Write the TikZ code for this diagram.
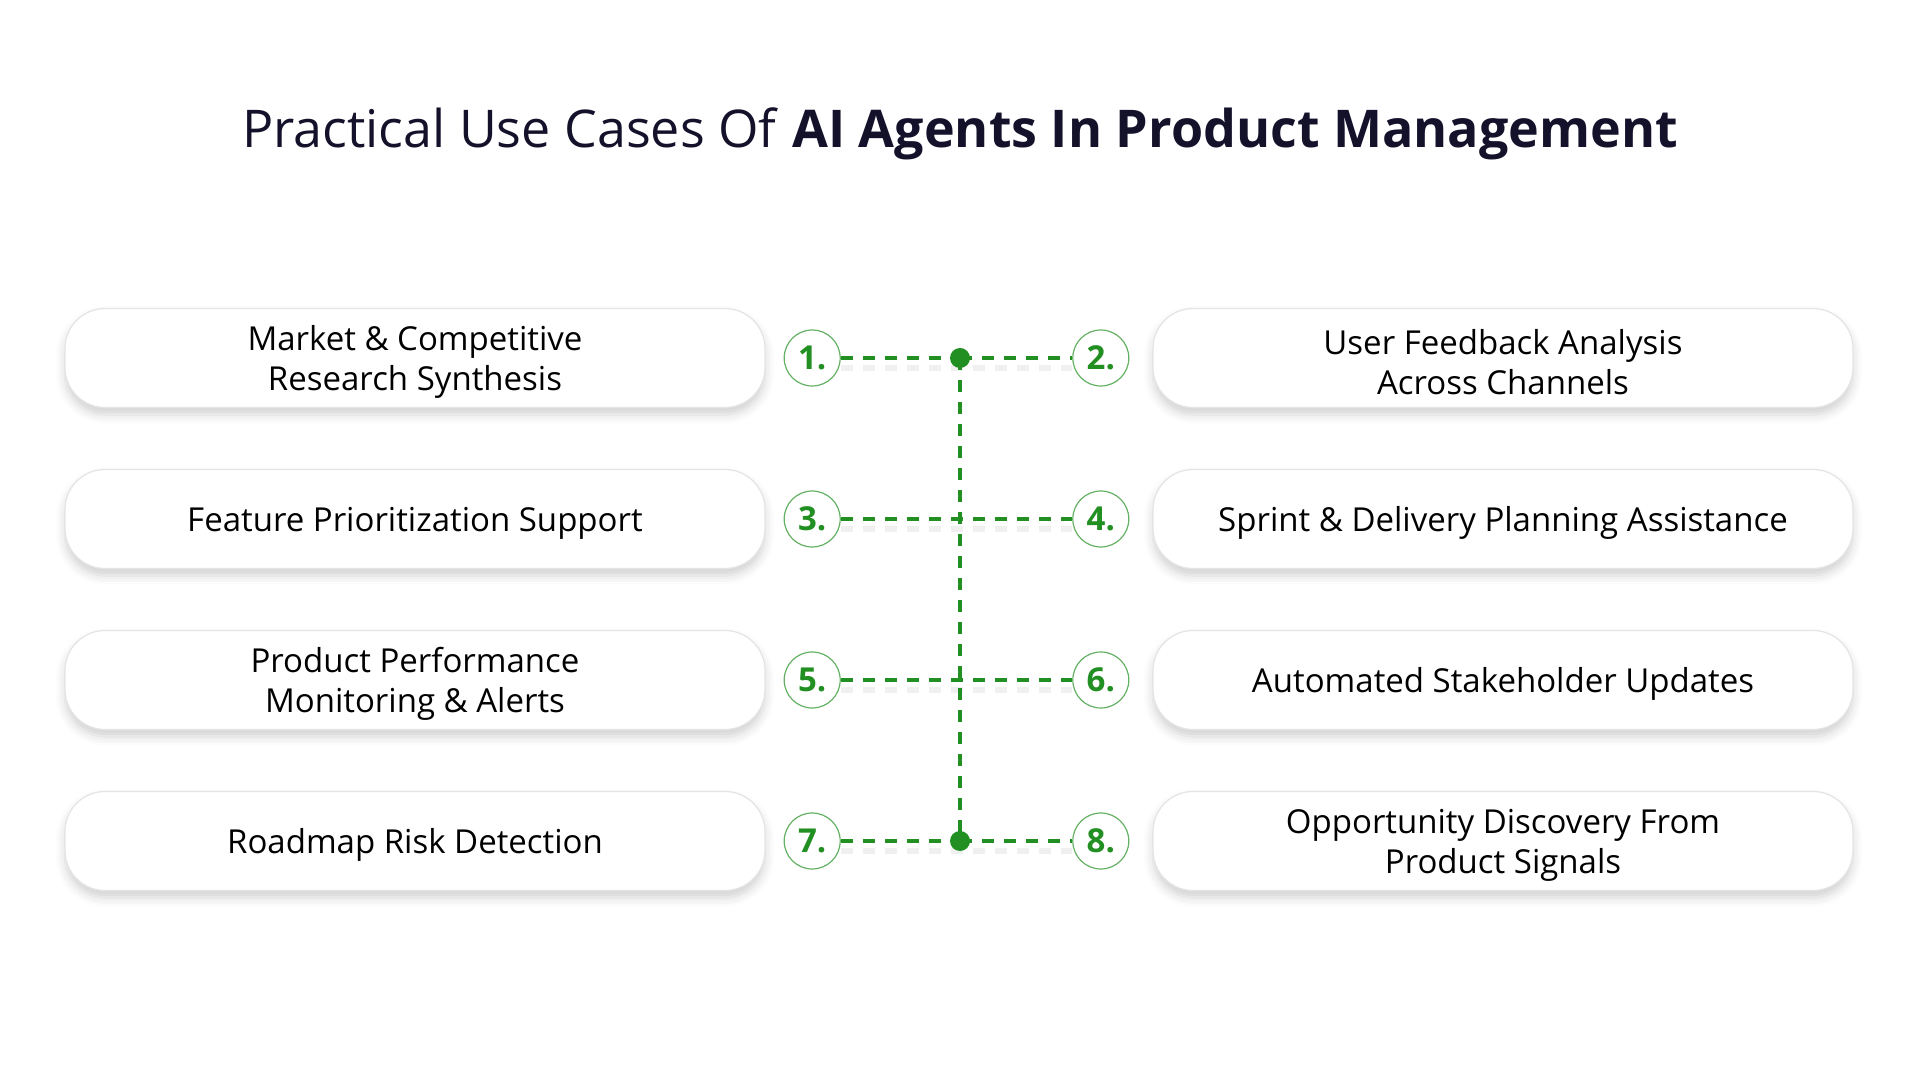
\documentclass[tikz,border=0pt]{standalone}
\usepackage{fontspec}
\setmainfont{Open Sans}
\usepackage{tikz}
\usetikzlibrary{positioning, shadows.blur}

\definecolor{leafgreen}{RGB}{34,143,34}
\definecolor{titleink}{RGB}{20,17,43}
\definecolor{pillrim}{RGB}{228,228,228}

\begin{document}
\begin{tikzpicture}[
    x=1pt, y=1pt,
    node distance=18pt and 18pt,
    usecase/.style={rectangle, rounded corners=40pt, draw=pillrim, line width=1.2pt, fill=white,
        minimum width=700pt, minimum height=99pt, align=center, text=black,
        font=\fontsize{33}{40}\selectfont, execute at begin node={\rule{0pt}{33pt}},
        blur shadow={shadow xshift=0pt, shadow yshift=-7pt, shadow blur radius=9pt, shadow opacity=18}},
    twolines/.style={execute at begin node={\rule{0pt}{73pt}}},
    badge/.style={circle, draw=leafgreen!70, line width=1.2pt, fill=white, minimum size=56pt, inner sep=0pt,
        text=leafgreen, font=\fontsize{33}{33}\selectfont\bfseries},
    hub/.style={circle, fill=leafgreen, minimum size=20pt, inner sep=0pt},
    link/.style={leafgreen, line width=4pt, dash pattern=on 12pt off 10pt},
    linkshade/.style={black!6, line width=6pt, dash pattern=on 12pt off 10pt, transform canvas={yshift=-10pt}}
]
\useasboundingbox (0,0) rectangle (1920,1080);

% Title
\node (title) at (960,946) {\color{titleink}\fontsize{52}{60}\selectfont Practical Use Cases Of \textbf{AI Agents In Product Management}};

% Use case boxes
\node (u1) [usecase, twolines] at (415,722) {Market \& Competitive\\Research Synthesis};
\node (u2) [usecase, twolines] at (1503,722) {User Feedback Analysis\\Across Channels};
\node (u3) [usecase] at (415,561) {Feature Prioritization Support};
\node (u4) [usecase] at (1503,561) {Sprint \& Delivery Planning Assistance};
\node (u5) [usecase, twolines] at (415,400) {Product Performance\\Monitoring \& Alerts};
\node (u6) [usecase] at (1503,400) {Automated Stakeholder Updates};
\node (u7) [usecase] at (415,239) {Roadmap Risk Detection};
\node (u8) [usecase, twolines] at (1503,239) {Opportunity Discovery From\\Product Signals};

% Number badges
\node (n1) [badge, right=18pt of u1] {1.};
\node (n2) [badge, left=23pt of u2] {2.};
\node (n3) [badge, right=18pt of u3] {3.};
\node (n4) [badge, left=23pt of u4] {4.};
\node (n5) [badge, right=18pt of u5] {5.};
\node (n6) [badge, left=23pt of u6] {6.};
\node (n7) [badge, right=18pt of u7] {7.};
\node (n8) [badge, left=23pt of u8] {8.};

% Hub points
\coordinate (top) at (960,722);
\coordinate (bottom) at (960,239);

% Connectors
\draw [linkshade] (n1) -- (n2);
\draw [linkshade] (n3) -- (n4);
\draw [linkshade] (n5) -- (n6);
\draw [linkshade] (n7) -- (n8);
\draw [link] (n1) -- (top);
\draw [link] (top) -- (n2);
\draw [link] (n3) -- (n4);
\draw [link] (n5) -- (n6);
\draw [link] (n7) -- (bottom);
\draw [link] (bottom) -- (n8);
\draw [link] (top) -- (bottom);
\node (tophub) [hub] at (top) {};
\node (bottomhub) [hub] at (bottom) {};

\end{tikzpicture}
\end{document}
